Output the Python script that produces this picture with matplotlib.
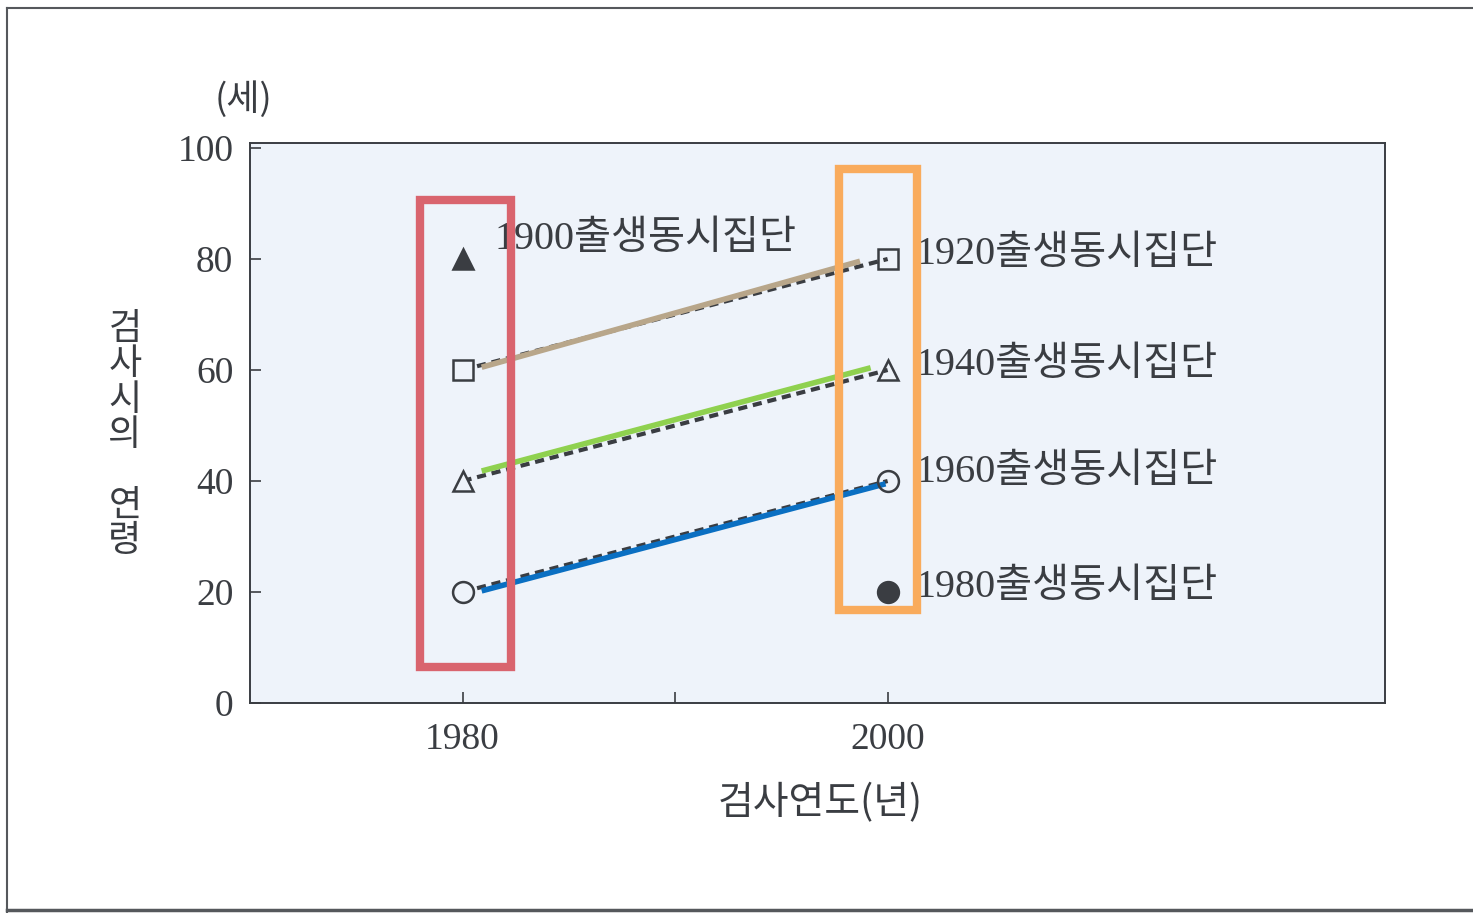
import matplotlib.pyplot as plt
from matplotlib.patches import Rectangle
from matplotlib.lines import Line2D

# survey years and cohort ages
years = [1980, 2000]
cohorts = ['1900', '1920', '1940', '1960', '1980']
ages_1980 = [80, 60, 40, 20, None]
ages_2000 = [None, 80, 60, 40, 20]
markers = ['^', 's', '^', 'o', 'o']
filled = [True, False, False, False, True]
label_pos = [(1981.5, 83.6), (2001.3, 80.8), (2001.3, 60.8), (2001.3, 41.6), (2001.3, 20.9)]

# coloured overlay lines (start, end)
over_x = [[1980.9, 1998.7], [1980.9, 1999.2], [1980.9, 1999.9]]
over_y = [[60.5, 79.6], [41.8, 60.4], [20.2, 39.5]]
over_c = ['#b8a68a', '#8fd14f', '#0a6fc2']

serif = ['Liberation Serif', 'Noto Sans CJK KR']
korean = ['Noto Sans CJK KR', 'DejaVu Sans']
ink = '#3a3d42'
bg = '#eef3fa'

fig = plt.figure(figsize=[14.73, 9.13], dpi=100)
fig.patch.set_facecolor('white')
ax = fig.add_axes([250/1473, 210/913, 1135/1473, 560/913])
ax.set_facecolor(bg)

ax.set_xlim(1970, 2023.4)
ax.set_ylim(0, 100.9)

for i in range(len(cohorts)):
    a1, a2 = ages_1980[i], ages_2000[i]
    if a1 is not None and a2 is not None:
        ax.plot(years, [a1, a2], color=ink, ls=(0, (2.2, 1.4)), lw=3, zorder=2)
    fc = ink if filled[i] else 'none'
    if a1 is not None:
        ax.plot(years[0], a1, marker=markers[i], ms=15, mfc=ink if filled[i] else bg,
                mec=ink, mew=1.8, zorder=4, ls='none')
    if a2 is not None:
        ax.plot(years[1], a2, marker=markers[i], ms=15, mfc=fc,
                mec=ink, mew=1.8, zorder=4, ls='none')
    ax.text(label_pos[i][0], label_pos[i][1], cohorts[i] + '출생동시집단',
            fontsize=29, family=serif, color=ink, va='center', ha='left')

for xs, ys, c in zip(over_x, over_y, over_c):
    ax.plot(xs, ys, color=c, lw=4, solid_capstyle='butt', zorder=3)

# highlight boxes
ax.add_patch(Rectangle((1978.0, 6.5), 4.3, 84.1, fill=False, ec='#d9646e',
                       lw=6, clip_on=False, zorder=5))
ax.add_patch(Rectangle((1997.7, 16.8), 3.7, 79.4, fill=False, ec='#f9ab5c',
                       lw=6, clip_on=False, zorder=5))

ax.set_xticks([1980, 1990, 2000])
ax.set_xticklabels(['1980', '', '2000'])
ax.set_yticks([0, 20, 40, 60, 80, 100])
ax.tick_params(direction='in', length=8, width=1.2, colors=ink, labelsize=27)
ax.tick_params(axis='x', pad=14)
ax.tick_params(axis='y', pad=12)
for lab in ax.get_xticklabels() + ax.get_yticklabels():
    lab.set_family(serif)
for s in ax.spines.values():
    s.set_color(ink)
    s.set_linewidth(1.4)

fig.text(244/1473, 1 - 100/913, '(세)', fontsize=26, family=korean, color=ink,
         ha='center', va='center')
fig.text(125/1473, 1 - 435/913, '\n'.join('검사시의') + '\n\n' + '\n'.join('연령'),
         fontsize=26, family=korean, color=ink, ha='center', va='center', linespacing=0.98)
fig.text(820/1473, 1 - 803/913, '검사연도(년)', fontsize=28, family=korean, color=ink,
         ha='center', va='center')

# scanned page frame
fig.add_artist(Line2D([7/1473, 7/1473], [0, 1 - 8/913], color='#55585c', lw=1.5))
fig.add_artist(Line2D([7/1473, 1], [1 - 8/913, 1 - 8/913], color='#55585c', lw=1.5))
fig.add_artist(Line2D([7/1473, 1], [3/913, 3/913], color='#55585c', lw=2.5))

fig.savefig('out.png', dpi=100)
